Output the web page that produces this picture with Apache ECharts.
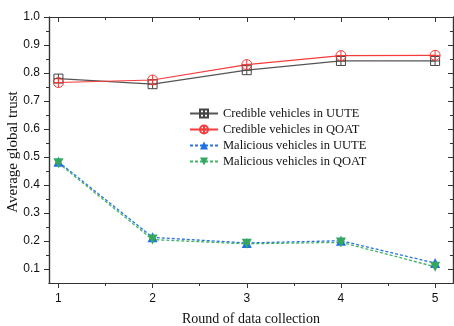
<!DOCTYPE html>
<html>
<head>
<meta charset="utf-8">
<script src="https://cdn.jsdelivr.net/npm/echarts@6/dist/echarts.min.js"></script>
<style>
  html, body { margin: 0; padding: 0; background: #fff; }
  #chart { width: 454px; height: 326px; }
</style>
</head>
<body>
<div id="chart"></div>
<script>
// Rounds of data collection (x values)
const rounds = [1, 2, 3, 4, 5];

// Average global trust per round
const credibleUUTE = [0.78, 0.76, 0.81, 0.843, 0.843];
const credibleQOAT = [0.766, 0.775, 0.83, 0.862, 0.863];
const maliciousUUTE = [0.483, 0.213, 0.193, 0.201, 0.121];
const maliciousQOAT = [0.478, 0.205, 0.19, 0.195, 0.108];

const seriesNames = [
  'Credible vehicles in UUTE',
  'Credible vehicles in QOAT',
  'Malicious vehicles in UUTE',
  'Malicious vehicles in QOAT'
];

const yTitle = 'Average global trust';
const xTitle = 'Round of data collection';

// Tick positions
const xMajorTicks = [1, 2, 3, 4, 5];
const xMinorTicks = [1.5, 2.5, 3.5, 4.5];
const yMajorTicks = [0.1, 0.2, 0.3, 0.4, 0.5, 0.6, 0.7, 0.8, 0.9, 1.0];
const yMinorTicks = [0.15, 0.25, 0.35, 0.45, 0.55, 0.65, 0.75, 0.85, 0.95];

const pair = (xs, ys) => xs.map((x, i) => [x, ys[i]]);

const axisColor = '#333';
const serif = '"Liberation Serif", "Times New Roman", serif';
const sans = '"Liberation Sans", Arial, sans-serif';

// Hollow square with a cross, hollow circle with a cross
const squareCross = 'path://M0,0L10,0L10,10L0,10ZM5,0L5,10M0,5L10,5';
const circleCross = 'path://M0,5A5,5,0,1,1,10,5A5,5,0,1,1,0,5ZM5,0L5,10M0,5L10,5';

const X_MIN = 0.9, X_MAX = 5.19, Y_MIN = 0.05, Y_MAX = 1.0;

function xAxisDef(position, ticks, len, inside, labels, name) {
  return {
    type: 'value', position, min: X_MIN, max: X_MAX,
    name: name || '', nameLocation: 'middle', nameGap: 29,
    nameTextStyle: { fontFamily: serif, fontSize: 14, color: '#111' },
    axisLine: { show: true, lineStyle: { color: axisColor, width: 1.2 } },
    axisTick: { show: true, inside, length: len, customValues: ticks, lineStyle: { color: axisColor, width: 1 } },
    axisLabel: labels ? { show: true, customValues: ticks, color: '#111', fontFamily: sans, fontSize: 12, margin: 10 } : { show: false },
    splitLine: { show: false }
  };
}

function yAxisDef(position, ticks, len, inside, labels) {
  return {
    type: 'value', position, min: Y_MIN, max: Y_MAX,
    axisLine: { show: true, lineStyle: { color: axisColor, width: 1.2 } },
    axisTick: { show: true, inside, length: len, customValues: ticks, lineStyle: { color: axisColor, width: 1 } },
    axisLabel: labels ? {
      show: true, customValues: ticks, color: '#111', fontFamily: sans, fontSize: 12, margin: 9,
      formatter: v => Number(v).toFixed(1)
    } : { show: false },
    splitLine: { show: false }
  };
}

const chart = echarts.init(document.getElementById('chart'), null, { renderer: 'canvas' });

chart.setOption({
  animation: false,
  backgroundColor: '#fff',
  grid: { left: 49, top: 17, right: 1, bottom: 43, containLabel: false, outerBoundsMode: 'none' },
  graphic: [{
    type: 'text', x: 13, y: 152, rotation: Math.PI / 2,
    style: { text: yTitle, fontFamily: serif, fontSize: 15, fill: '#111', align: 'center', verticalAlign: 'middle' }
  }],
  legend: {
    orient: 'vertical',
    left: 184, top: 102,
    itemWidth: 28, itemHeight: 10, itemGap: 3,
    textStyle: { fontFamily: serif, fontSize: 12.5, color: '#111' },
    data: seriesNames
  },
  xAxis: [
    xAxisDef('bottom', xMajorTicks, 5, false, true, xTitle),
    xAxisDef('bottom', xMinorTicks, 3, false, false),
    xAxisDef('top', xMajorTicks, 5, true, false),
    xAxisDef('top', xMinorTicks, 3, true, false)
  ],
  yAxis: [
    yAxisDef('left', yMajorTicks, 5, false, true),
    yAxisDef('left', yMinorTicks, 3, false, false),
    yAxisDef('right', yMajorTicks, 5, true, false),
    yAxisDef('right', yMinorTicks, 3, true, false)
  ],
  series: [
    {
      name: seriesNames[0], type: 'line', data: pair(rounds, credibleUUTE),
      symbol: squareCross, symbolSize: 9,
      lineStyle: { color: '#555', width: 1.2 },
      itemStyle: { color: 'rgba(0,0,0,0)', borderColor: '#444', borderWidth: 1 }
    },
    {
      name: seriesNames[1], type: 'line', data: pair(rounds, credibleQOAT),
      symbol: circleCross, symbolSize: 10,
      lineStyle: { color: '#f53b3b', width: 1.2 },
      itemStyle: { color: 'rgba(0,0,0,0)', borderColor: '#f53b3b', borderWidth: 1 }
    },
    {
      name: seriesNames[2], type: 'line', data: pair(rounds, maliciousUUTE),
      symbol: 'triangle', symbolSize: 10,
      lineStyle: { color: '#2a72e0', width: 1.3, type: [3, 2] },
      itemStyle: { color: '#1f6fe6' }
    },
    {
      name: seriesNames[3], type: 'line', data: pair(rounds, maliciousQOAT),
      symbol: 'triangle', symbolRotate: 180, symbolSize: 10,
      lineStyle: { color: '#44b36a', width: 1.3, type: [3, 2] },
      itemStyle: { color: '#35a85e' }
    }
  ]
});
</script>
</body>
</html>
